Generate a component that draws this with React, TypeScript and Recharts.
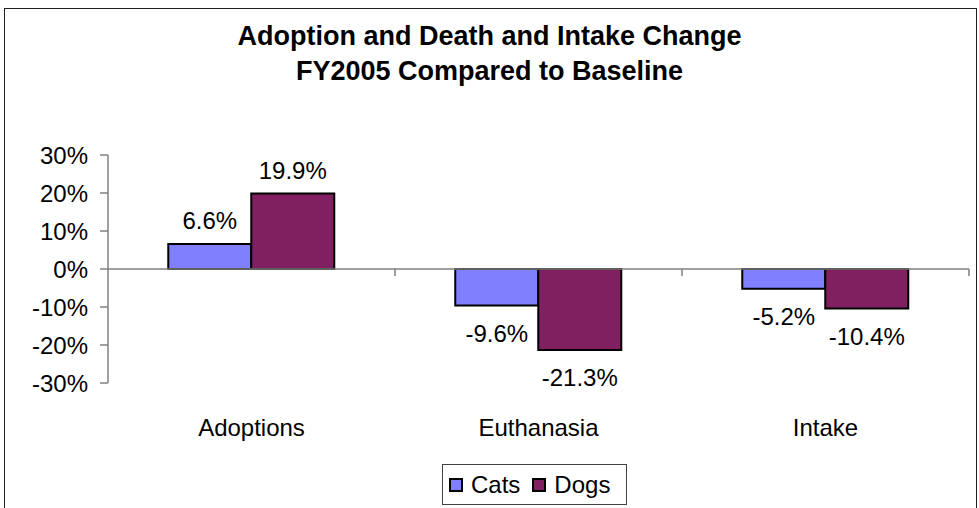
import React from 'react';
import { BarChart, Bar, XAxis, YAxis, ReferenceLine, Legend, LabelList } from 'recharts';

const categories = ['Adoptions', 'Euthanasia', 'Intake'];
const catsChange = [0.066, -0.096, -0.052];
const dogsChange = [0.199, -0.213, -0.104];
const yTicks = [-0.3, -0.2, -0.1, 0, 0.1, 0.2, 0.3];

const data = categories.map((name, i) => ({ name, cats: catsChange[i], dogs: dogsChange[i] }));

const FONT = '"Liberation Sans", Arial, sans-serif';
const CATS_COLOR = '#8080FF';
const DOGS_COLOR = '#802060';

const pct = (v: number) => `${Math.round(v * 100)}%`;
const pct1 = (v: number) => `${(v * 100).toFixed(1)}%`;

// label sits above a positive bar, below a negative one
const BarValueLabel = (props: any) => {
  const { x, y, width, height, value } = props;
  const top = Math.min(y, y + height);
  const bottom = Math.max(y, y + height);
  const cy = value >= 0 ? top - 23 : bottom + 28;
  return (
    <text
      x={x + width / 2}
      y={cy}
      textAnchor="middle"
      dominantBaseline="central"
      fontFamily={FONT}
      fontSize={24}
      fill="#000"
    >
      {pct1(value)}
    </text>
  );
};

// zero line with downward tick marks between categories
const ZeroAxis = (props: any) => {
  const { x1, x2, y1 } = props;
  const n = categories.length;
  let d = `M${x1},${y1}H${x2}`;
  for (let i = 1; i <= n; i++) {
    const tx = x1 + ((x2 - x1) * i) / n;
    d += `M${tx},${y1}V${y1 + 7}`;
  }
  return <path d={d} stroke="#808080" strokeWidth={1.5} fill="none" />;
};

const LegendBox = () => (
  <div
    style={{
      width: 185,
      height: 41,
      boxSizing: 'border-box',
      border: '1px solid #404040',
      display: 'flex',
      alignItems: 'center',
      fontFamily: FONT,
      fontSize: 24,
      color: '#000',
      paddingLeft: 6,
      background: '#fff',
    }}
  >
    {[
      { label: 'Cats', color: CATS_COLOR },
      { label: 'Dogs', color: DOGS_COLOR },
    ].map((item, i) => (
      <span key={item.label} style={{ display: 'flex', alignItems: 'center', marginLeft: i ? 12 : 0 }}>
        <span
          style={{
            width: 14,
            height: 14,
            boxSizing: 'border-box',
            border: '2px solid #000',
            background: item.color,
            display: 'inline-block',
            marginRight: 8,
          }}
        />
        {item.label}
      </span>
    ))}
  </div>
);

export default function App() {
  return (
    <div style={{ position: 'absolute', left: 0, top: 0, width: 979, height: 508, background: '#fff', overflow: 'hidden' }}>
      <div
        style={{
          position: 'absolute',
          left: 4,
          top: 8,
          width: 973,
          height: 520,
          boxSizing: 'border-box',
          border: '1.5px solid #202020',
        }}
      />
      <div
        style={{
          position: 'absolute',
          left: 0,
          top: 19,
          width: 979,
          textAlign: 'center',
          fontFamily: FONT,
          fontWeight: 'bold',
          fontSize: 27,
          lineHeight: '35px',
          color: '#000',
        }}
      >
        Adoption and Death and Intake Change
        <br />
        FY2005 Compared to Baseline
      </div>
      <BarChart
        width={979}
        height={508}
        data={data}
        margin={{ top: 155, right: 10, bottom: 3, left: 0 }}
        barCategoryGap="21%"
        barGap={0}
        style={{ position: 'absolute', left: 0, top: 0 }}
      >
        <XAxis
          dataKey="name"
          height={81}
          axisLine={false}
          tickLine={false}
          tickMargin={30}
          tick={{ fill: '#000', fontSize: 24, fontFamily: FONT }}
        />
        <YAxis
          width={108}
          domain={[-0.3, 0.3]}
          ticks={yTicks}
          tickFormatter={pct}
          tickSize={8}
          tickMargin={12}
          axisLine={{ stroke: '#808080', strokeWidth: 1.5 }}
          tickLine={{ stroke: '#808080', strokeWidth: 1.5 }}
          tick={{ fill: '#000', fontSize: 24, fontFamily: FONT }}
        />
        <ReferenceLine y={0} shape={ZeroAxis} />
        <Bar dataKey="cats" name="Cats" fill={CATS_COLOR} stroke="#000" strokeWidth={2} isAnimationActive={false}>
          <LabelList dataKey="cats" content={BarValueLabel} />
        </Bar>
        <Bar dataKey="dogs" name="Dogs" fill={DOGS_COLOR} stroke="#000" strokeWidth={2} isAnimationActive={false}>
          <LabelList dataKey="dogs" content={BarValueLabel} />
        </Bar>
        <Legend
          verticalAlign="bottom"
          height={41}
          width={185}
          content={LegendBox}
          wrapperStyle={{ left: 442, bottom: 3 }}
        />
      </BarChart>
    </div>
  );
}
